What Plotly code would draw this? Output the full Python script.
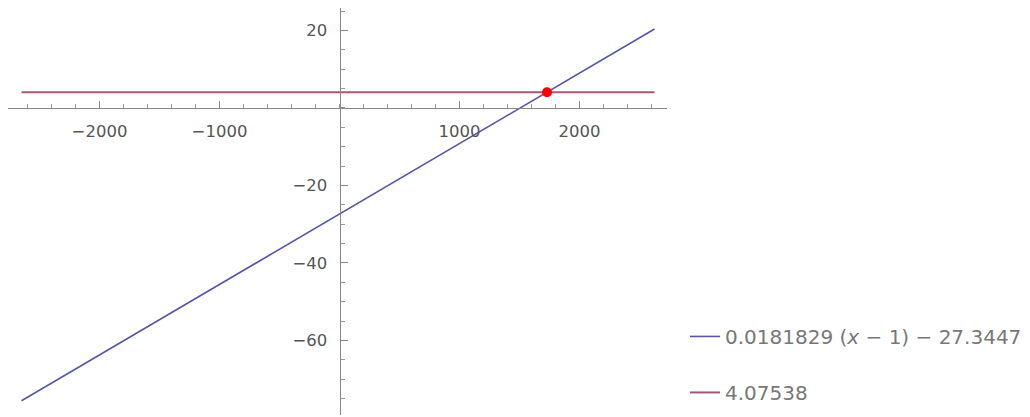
import plotly.graph_objects as go

# data
line_x = [-2650, 2625]
blue_y = [-75.55, 20.37]
pink_y = [4.07538, 4.07538]
point_x = [1729]
point_y = [4.07538]
blue_name = "0.0181829 (<i>x</i> − 1) − 27.3447"
pink_name = "4.07538"
x_ticks = [-2000, -1000, 1000, 2000]
y_ticks = [-60, -40, -20, 20]

BLUE = "#5656a4"
PINK = "#a3587a"
TICKC = "#555555"

fig = go.Figure()
fig.add_trace(go.Scatter(x=line_x, y=blue_y, mode="lines", name=blue_name,
                         line=dict(color=BLUE, width=1.6), legendgroup="a"))
fig.add_trace(go.Scatter(x=line_x, y=pink_y, mode="lines", name=pink_name,
                         line=dict(color=PINK, width=2), legendgroup="b"))
fig.add_trace(go.Scatter(x=point_x, y=point_y, mode="markers", showlegend=False,
                         marker=dict(color="#ff0000", size=10)))

x_rng = [-2762.5, 2729.0]
y_rng = [-79.23, 25.8]
xpos = (0 - y_rng[0]) / (y_rng[1] - y_rng[0])
ypos = (0 - x_rng[0]) / (x_rng[1] - x_rng[0])

fig.update_layout(
    width=1022, height=409,
    margin=dict(l=0, r=363, t=0, b=2, autoexpand=False),
    paper_bgcolor="white", plot_bgcolor="white",
    font=dict(family="DejaVu Sans", color=TICKC),
    xaxis=dict(range=x_rng, anchor="free", position=xpos, automargin=False,
               showgrid=False, zeroline=False, showline=True,
               linecolor="#888888", linewidth=1,
               tickmode="array", tickvals=x_ticks,
               ticks="inside", ticklen=7, tickcolor="#888888",
               tickfont=dict(size=16.5, color=TICKC),
               ticklabelstandoff=8,
               minor=dict(dtick=200, tick0=0, ticks="inside", ticklen=4,
                          tickcolor="#999999", showgrid=False)),
    yaxis=dict(range=y_rng, anchor="free", position=ypos, automargin=False,
               showgrid=False, zeroline=False, showline=True,
               linecolor="#888888", linewidth=1,
               tickmode="array", tickvals=y_ticks,
               ticks="inside", ticklen=7, tickcolor="#888888",
               tickfont=dict(size=16.5, color=TICKC),
               ticklabelstandoff=9,
               minor=dict(dtick=5, tick0=0, ticks="inside", ticklen=4,
                          tickcolor="#999999", showgrid=False)),
    legend=dict(x=1.0273, y=0.0075, xref="paper", yref="paper",
                xanchor="left", yanchor="bottom",
                font=dict(size=20, color="#777777", family="DejaVu Sans"),
                tracegroupgap=27, itemwidth=30,
                bgcolor="rgba(0,0,0,0)"),
    showlegend=True,
)

fig.write_html("out.html")
